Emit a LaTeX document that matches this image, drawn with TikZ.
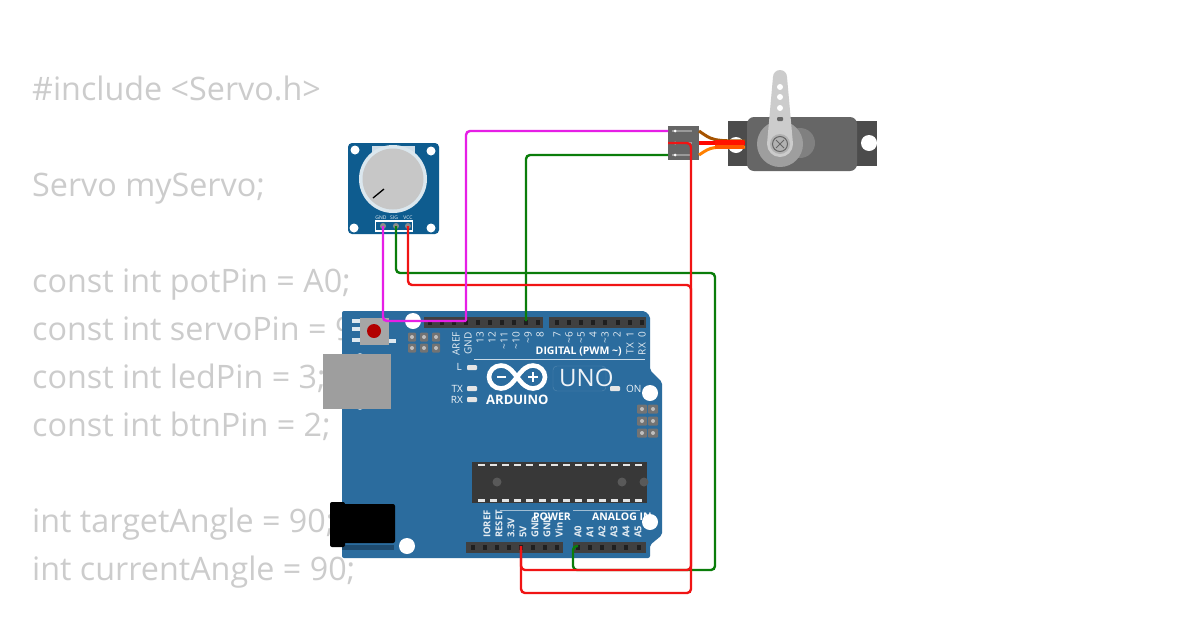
\documentclass[tikz,border=0pt]{standalone}
\usepackage{fontspec}
\setmainfont{Open Sans}
\definecolor{boardblue}{HTML}{2B6C9E}
\definecolor{potblue}{HTML}{0E5C8F}
\definecolor{codegray}{HTML}{CCCCCC}
\definecolor{wiremag}{HTML}{E61EE6}
\definecolor{wiregreen}{HTML}{0A7D0A}
\definecolor{wirered}{HTML}{F01414}
\tikzset{
  codeline/.style={anchor=base west, inner sep=0pt, text=codegray, font=\fontsize{32.3}{32.3}\selectfont},
  pinlabel/.style={rotate=90, inner sep=0pt, text=white!88!boardblue, font=\fontsize{10}{10}\selectfont},
  boardtext/.style={inner sep=0pt, text=white!92!boardblue, font=\fontsize{10}{10}\selectfont},
  boardbold/.style={inner sep=0pt, text=white, font=\bfseries\fontsize{10.5}{10.5}\selectfont},
  pinpad/.style={inner sep=0pt, minimum size=0pt},
  wire/.style={line width=2.4pt, rounded corners=4pt},
  ledpad/.style={fill=white!80!gray, rounded corners=1pt},
}
\begin{document}
\begin{tikzpicture}[x=1pt, y=-1pt]
    \useasboundingbox[fill=white] (0,0) rectangle (1200,630);

    % Code behind the circuit
    \node[codeline] (inc) at (32,100) {\#include <Servo.h>};
    \node[codeline] (srv) at (32,196) {Servo myServo;};
    \node[codeline] (pot) at (32,292) {const int potPin = A0;};
    \node[codeline] (spn) at (32,340) {const int servoPin = 9;};
    \node[codeline] (led) at (32,388) {const int ledPin = 3;};
    \node[codeline] (btn) at (32,436) {const int btnPin = 2;};
    \node[codeline] (tgt) at (32,532) {int targetAngle = 90;};
    \node[codeline] (cur) at (32,580) {int currentAngle = 90;};

    % --- Potentiometer ---
    \fill[potblue, rounded corners=4pt] (348,143) rectangle (439,234);
    \foreach \hx/\hy in {355/150, 431/151, 354/228, 431/228}
      \fill[white] (\hx,\hy) circle (4.5);
    \fill[white!80!potblue] (372,146) rectangle (415,165);
    \fill[white!85!potblue] (393,179) circle (34);
    \fill[black!22] (393,179) circle (30.5);
    \draw[black, line width=1.3pt] (373,198) -- (384,189);
    \draw[white, line width=1.2pt] (375.5,221) rectangle (412.5,231);
    \foreach \t/\px in {GND/381, SIG/394, VCC/408}
      \node[boardtext, font=\fontsize{5}{5}\selectfont] at (\px,218) {\t};
    \node[pinpad] (potGND) at (383,226) {};
    \node[pinpad] (potSIG) at (396,226) {};
    \node[pinpad] (potVCC) at (408,226) {};
    \foreach \px in {383,396,408}
      \fill[black!45] (\px,226) circle (3);

    % --- Arduino board ---
    \fill[boardblue, rounded corners=2pt] (342,311) -- (645,311) -- (650,316) -- (650,370) -- (662,382)
      -- (662,535) -- (650,545) -- (650,558) -- (342,558) -- cycle;
    \fill[white] (413,321) circle (8);
    \fill[white] (650,393) circle (8);
    \fill[white] (407,546) circle (8);
    \fill[white] (650,522) circle (8);

    % Headers
    \fill[black!75] (424,317) rectangle (543,328);
    \fill[black!75] (549,317) rectangle (646,328);
    \fill[black!75] (466,542) rectangle (563,553);
    \fill[black!75] (573,542) rectangle (646,553);
    \foreach \i in {0,...,9}
      \fill[black!88] (430+12*\i-2,320) rectangle ++(4,5);
    \foreach \i in {0,...,7}
      \fill[black!88] (557+12.1*\i-2,320) rectangle ++(4,5);
    \foreach \i in {0,...,7}
      \fill[black!88] (473+12*\i-2,545) rectangle ++(4,5);
    \foreach \i in {0,...,5}
      \fill[black!88] (578+12.1*\i-2,545) rectangle ++(4,5);

    % Pin labels
    \foreach \t/\px in {AREF/456, GND/468, 13/480, 12/492, ~11/504, ~10/516, ~9/528, 8/540, 7/557, ~6/569, ~5/581, 4/593, ~3/605, 2/617, 1/630, 0/642}
      \node[pinlabel, anchor=east] at (\px,332) {\detokenize\expandafter{\t}};
    \node[pinlabel, anchor=east] at (630,343) {TX};
    \node[pinlabel, anchor=east] at (642,343) {RX};
    \foreach \t/\px in {IOREF/487, RESET/499, 3.3V/511, 5V/523, GND/535, GND/547, Vin/559, A0/578, A1/590, A2/602, A3/614, A4/626, A5/638}
      \node[pinlabel, anchor=west, font=\bfseries\fontsize{9.5}{9.5}\selectfont] at (\px,538) {\t};
    \node[boardbold, anchor=east] at (622,352) {DIGITAL (PWM \textasciitilde)};
    \draw[white!75!boardblue] (474,359) -- (645,359);
    \node[boardbold] at (552,517) {POWER};
    \node[boardbold, anchor=west] at (592,517) {ANALOG IN};
    \draw[white!55!boardblue] (500,510) -- (560,510);
    \draw[white!55!boardblue] (573,510) -- (640,510);

    % Logo and LEDs
    \draw[white, line width=4.6pt] (517,377) .. controls (511,369) and (507,365.5) .. (501,365.5)
      .. controls (494,365.5) and (489,371) .. (489,377) .. controls (489,383) and (494,388.5) .. (501,388.5)
      .. controls (507,388.5) and (511,385) .. (517,377) .. controls (523,369) and (527,365.5) .. (533,365.5)
      .. controls (540,365.5) and (545,371) .. (545,377) .. controls (545,383) and (540,388.5) .. (533,388.5)
      .. controls (527,388.5) and (523,385) .. (517,377) -- cycle;
    \fill[white] (497,375.8) rectangle ++(9,2.4);
    \fill[white] (528,375.8) rectangle ++(10,2.4);
    \fill[white] (531.8,372) rectangle ++(2.4,10);
    \node[boardbold, anchor=west, font=\bfseries\fontsize{13}{13}\selectfont] at (486,400) {ARDUINO};
    \draw[white!20!boardblue, rounded corners=4pt] (553,366) rectangle (606,391);
    \node[boardtext, anchor=west, font=\fontsize{24}{24}\selectfont] at (559,378) {UNO};
    \node[boardtext, anchor=east] at (462,367) {L};
    \node[boardtext, anchor=east] at (463,389) {TX};
    \node[boardtext, anchor=east] at (463,400) {RX};
    \node[boardtext, anchor=west] at (626,389) {ON};
    \fill[ledpad] (467,365) rectangle ++(10,5);
    \fill[ledpad] (467,386) rectangle ++(10,5);
    \fill[ledpad] (467,397) rectangle ++(10,5);
    \fill[ledpad] (610,386) rectangle ++(10,5);

    % Chip
    \fill[black!78] (472,462) rectangle (647,503);
    \foreach \i in {0,...,13} {
      \fill[white!90!black] (478+12.1*\i,463.5) rectangle ++(7,2.5);
      \fill[white!90!black] (478+12.1*\i,499) rectangle ++(7,2.5);
    }
    \fill[black!65] (497,482) circle (4.5);
    \fill[black!65] (622,482) circle (4.5);
    \fill[black!65] (644,482) circle (4.5);

    % Reset, ICSP, USB, jack
    \foreach \ry in {321,329,340}
      \fill[white!85!boardblue] (352,\ry-2) rectangle ++(8,4);
    \fill[white!85!boardblue] (389,339) rectangle ++(7,4);
    \fill[black!35] (360,318) rectangle (389,345);
    \fill[red!70!black] (374,331) circle (7);
    \foreach \hx in {412,424,436} \foreach \hy in {337,348} {
      \fill[black!55, rounded corners=1pt] (\hx-4,\hy-4.5) rectangle ++(8,9);
      \fill[black!25] (\hx,\hy) circle (2);
    }
    \foreach \hx in {642,653} \foreach \hy in {409,421,433} {
      \fill[black!55, rounded corners=1pt] (\hx-5,\hy-4.5) rectangle ++(10,9);
      \fill[black!25] (\hx,\hy) circle (2);
    }
    \fill[white!65!boardblue] (360,358) circle (5);
    \fill[white!65!boardblue] (360,405) circle (5);
    \fill[black!38] (323,354) rectangle (391,409);
    \fill[boardblue!70!black] (342,545) rectangle (394,550);
    \fill[black, rounded corners=2pt] (330,502) rectangle (345,547);
    \fill[black, rounded corners=2pt] (343,504) rectangle (395,543);

    % --- Servo ---
    \fill[black!70] (728,121) rectangle (877,166);
    \fill[white] (736,145) circle (8);
    \begin{scope}
      \clip (728,121) rectangle (877,166);
      \fill[white] (869,143) circle (8);
    \end{scope}
    \fill[black!60, rounded corners=7pt] (747,117) rectangle (857,171);
    \fill[black!50] (800,143) circle (15);
    \fill[black!38] (780,144) circle (23);
    \fill[black!20] (773,77) arc (180:360:7) -- (793,144) arc (0:180:13) -- cycle;
    \foreach \hy in {87,97,108}
      \fill[white] (780,\hy) circle (3);
    \fill[black!60, rounded corners=1pt] (777,117) rectangle (783,121);
    \fill[black!30] (780,144) circle (10);
    \draw[black!60, line width=1pt] (780,144) circle (7.5);
    \draw[black!60, line width=1pt] (776,140) -- (784,148) (784,140) -- (776,148);

    % Servo connector and leads
    \fill[black!60] (668,126) rectangle (699,160);
    \foreach \py in {131,143,155} {
      \fill[black!40] (672,\py-1) rectangle (692,\py+1);
      \fill[white] (675,\py) circle (1.5);
    }
    \node[pinpad] (srvSIG) at (668,131) {};
    \node[pinpad] (srvVCC) at (668,143) {};
    \node[pinpad] (srvGND) at (668,155) {};
    \draw[orange!65!black, line width=3pt] (699,131) .. controls (712,140) and (712,141) .. (745,141);
    \draw[orange, line width=3pt] (699,155) .. controls (712,146) and (712,147) .. (745,147);
    \draw[red!95!orange, line width=3.4pt] (699,143) -- (745,143);
    \fill[orange!70!red] (715,140) rectangle (744,149);
    \fill[red!85!orange] (715,139.5) rectangle (744,145);

    % --- Wires ---
    \node[pinpad] (gndPin) at (466,321) {};
    \node[pinpad] (digNine) at (526,321) {};
    \node[pinpad] (fiveV) at (521,546) {};
    \node[pinpad] (anaZero) at (578,546) {};
    \coordinate (sigHi) at (715,273);
    \coordinate (sigLo) at (715,570);
    \coordinate (sigIn) at (573,570);
    \coordinate (sigUp) at (573,546);
    \coordinate (vccHi) at (691,285);
    \coordinate (vccLo) at (691,593);
    \coordinate (vccIn) at (521,593);
    \coordinate (srvHi) at (691,143);
    \coordinate (srvLo) at (691,570);
    \coordinate (srvIn) at (521,570);

    \draw[wire, wiregreen] (potSIG.center) |- (sigHi) -- (sigLo) -- (sigIn) -- (sigUp) -- (anaZero.center);
    \draw[wire, wiregreen] (srvGND.center) -| (digNine.center);
    \draw[wire, wirered] (potVCC.center) |- (vccHi) -- (vccLo) -- (vccIn) -- (fiveV.center);
    \draw[wire, wirered] (srvVCC.center) -- (srvHi) -- (srvLo) -- (srvIn) -- (fiveV.center);
    \draw[wire, wiremag] (potGND.center) |- (gndPin.center);
    \draw[wire, wiremag] (srvSIG.center) -| (gndPin.center);
\end{tikzpicture}
\end{document}
